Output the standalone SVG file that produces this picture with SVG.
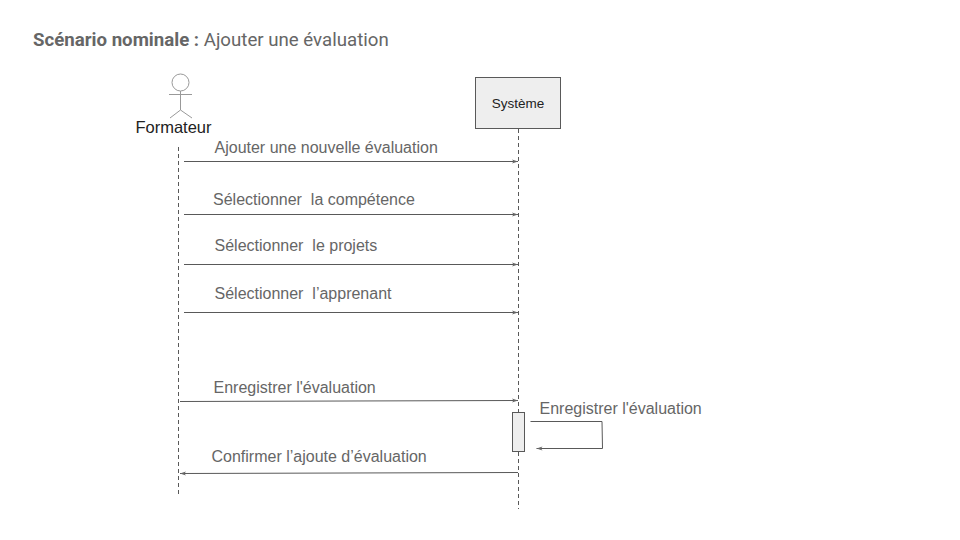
<svg xmlns="http://www.w3.org/2000/svg" width="960" height="540" viewBox="0 0 960 540">
<style>
text{font-family:Roboto,"Liberation Sans",sans-serif;fill:#666}
.m{font-family:"Liberation Sans",Arial,sans-serif;font-size:16px;fill:#666}
.n{font-family:"Liberation Sans",Arial,sans-serif;fill:#222}
.l{fill:none;stroke:#595959;stroke-width:1}
.d{fill:none;stroke:#595959;stroke-width:1;stroke-dasharray:4 3}
.a{fill:#666;stroke:none}
</style>
<defs>
<marker id="h" markerWidth="8" markerHeight="6" refX="6" refY="3" orient="auto" markerUnits="userSpaceOnUse"><path d="M0 1L6 3L0 5L1.500 3Z" class="a"/></marker>
</defs>
<rect width="960" height="540" fill="#fff"/>
<text x="33" y="46" font-size="18.670"><tspan font-weight="700">Scénario nominale : </tspan>Ajouter une évaluation</text>
<g id="formateur">
<circle cx="180.500" cy="82.500" r="8.500" fill="#fff" stroke="#999" stroke-width="1"/>
<path d="M180.500 91V110M169 94.500H192M170 118L180.500 110L192 118" fill="none" stroke="#999" stroke-width="1"/>
<text class="n" x="173.500" y="133" text-anchor="middle" font-size="16.500">Formateur</text>
</g>
<g id="systeme">
<rect x="475.500" y="77.500" width="85" height="51" fill="#eee" stroke="#595959" stroke-width="1"/>
<text class="n" x="518" y="107.500" text-anchor="middle" font-size="13.500">Système</text>
</g>
<g id="connectors">
<path class="d" d="M178.500 147V494"/>
<path class="d" d="M518.500 129V412"/>
<path class="d" d="M518.500 452V509"/>
<path class="l" marker-end="url(#h)" d="M184 161.500H518"/>
<path class="l" marker-end="url(#h)" d="M184 214.500H518"/>
<path class="l" marker-end="url(#h)" d="M184 264.500H518"/>
<path class="l" marker-end="url(#h)" d="M184 312.500H518"/>
<path class="l" marker-end="url(#h)" d="M180 401.500L518 400.500"/>
<path class="l" marker-end="url(#h)" d="M530.500 421.500H602L602.500 448.500H536.500"/>
<path class="l" marker-end="url(#h)" d="M518 472.500L180 473.500"/>
</g>
<g id="activation"><rect x="512.500" y="412.500" width="12" height="39" fill="#eee" stroke="#595959" stroke-width="1"/></g>
<g id="labels">
<text class="m" x="214.500" y="152.500">Ajouter une nouvelle évaluation</text>
<text class="m" x="213" y="204.500" xml:space="preserve">Sélectionner  la compétence</text>
<text class="m" x="214.500" y="250.500" xml:space="preserve">Sélectionner  le projets</text>
<text class="m" x="214.500" y="298.500" xml:space="preserve">Sélectionner  l’apprenant</text>
<text class="m" x="213.500" y="392.500">Enregistrer l'évaluation</text>
<text class="m" x="539.500" y="413.500">Enregistrer l'évaluation</text>
<text class="m" x="211.500" y="461.500">Confirmer l’ajoute d’évaluation</text>
</g>
</svg>
